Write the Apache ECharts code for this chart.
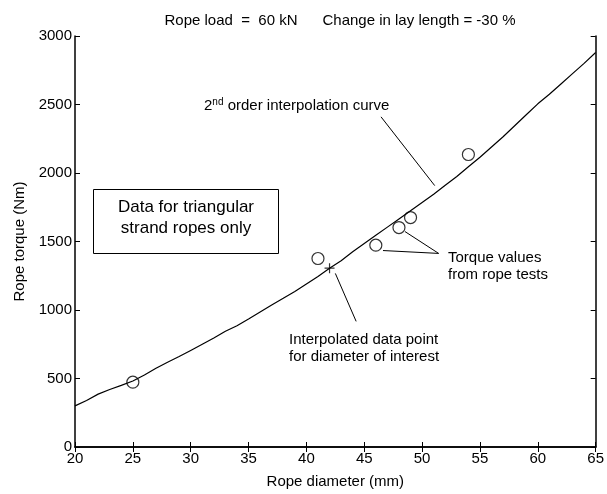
<!DOCTYPE html>
<html><head><meta charset="utf-8">
<script src="https://cdn.jsdelivr.net/npm/echarts@6/dist/echarts.min.js"></script>
<style>html,body{margin:0;padding:0;background:#fff}#c{width:607px;height:494px}</style>
</head><body><div id="c"></div>
<script>
const curveX = [20,21,22,23,24,25,26,27,28,29,30,31,32,33,34,35,36,37,38,39,40,41,42,43,44,45,46,47,48,49,50,51,52,53,54,55,56,57,58,59,60,61,62,63,64,65];
const curveY = [300,340,386,420,450,482,525,575,619,660,705,750,795,845,885,934,985,1036,1085,1135,1190,1245,1305,1360,1425,1485,1545,1605,1665,1725,1785,1845,1910,1975,2045,2115,2190,2265,2345,2425,2505,2575,2650,2725,2800,2880];
const testX = [25,41,46,48,49,54];
const testY = [473,1376,1473,1602,1675,2135];
const interpX = [42];
const interpY = [1305];
const xTicks = [20,25,30,35,40,45,50,55,60,65];
const yTicks = [0,500,1000,1500,2000,2500,3000];
const leaders = [
  [[46.45,2410],[51.09,1908]],
  [[51.43,1413],[46.62,1434]],
  [[51.43,1413],[48.51,1573]],
  [[42.5,1267],[44.3,917]]
];
const F = 'Liberation Sans, Arial, sans-serif';
const FS = 15;
const chart = echarts.init(document.getElementById('c'));
const axisCommon = {
  axisLine:{show:true,lineStyle:{color:'#000',width:1.5}},
  axisTick:{show:true,inside:true,length:5,lineStyle:{color:'#000',width:1}},
  splitLine:{show:false}
};
chart.setOption({
  animation:false,
  backgroundColor:'#fff',
  textStyle:{fontFamily:F},
  title:{text:'Rope load  =  60 kN      Change in lay length = -30 %',left:335,top:8,textAlign:'center',
    textStyle:{fontSize:FS,fontWeight:'normal',color:'#000',fontFamily:F}},
  grid:{left:75,right:8,top:36,bottom:45},
  xAxis:[
    Object.assign({type:'value',min:20,max:65,interval:5,position:'bottom',
      name:'Rope diameter (mm)',nameLocation:'middle',nameGap:27,
      nameTextStyle:{fontSize:FS,color:'#000',fontFamily:F},
      axisLabel:{fontSize:FS,color:'#000',margin:4,fontFamily:F}},axisCommon),
    Object.assign({type:'value',min:20,max:65,interval:5,position:'top',axisLabel:{show:false}},axisCommon)
  ],
  yAxis:[
    Object.assign({type:'value',min:0,max:3000,interval:500,position:'left',
      name:'Rope torque (Nm)',nameLocation:'middle',nameGap:42,
      nameTextStyle:{fontSize:FS,color:'#000',fontFamily:F},
      axisLabel:{fontSize:FS,color:'#000',margin:3,fontFamily:F,formatter:v=>String(v)}},axisCommon),
    Object.assign({type:'value',min:0,max:3000,interval:500,position:'right',axisLabel:{show:false}},axisCommon)
  ],
  series:[
    {type:'line',data:curveX.map((x,i)=>[x,curveY[i]]),showSymbol:false,symbol:'none',
      lineStyle:{color:'#000',width:1.2},
      markLine:{silent:true,symbol:'none',label:{show:false},lineStyle:{color:'#000',width:1,type:'solid'},
        data:leaders.map(l=>[{coord:l[0]},{coord:l[1]}])}},
    {type:'scatter',data:testX.map((x,i)=>[x,testY[i]]),symbol:'circle',symbolSize:12,
      itemStyle:{color:'#fff',borderColor:'#000',borderWidth:1.2}},
    {type:'scatter',data:interpX.map((x,i)=>[x,interpY[i]]),
      symbol:'path://M5,0L5,10M0,5L10,5',symbolSize:10,
      itemStyle:{color:'none',borderColor:'#000',borderWidth:1.2}}
  ],
  graphic:[
    {type:'rect',shape:{x:93.5,y:189.5,width:185,height:64},style:{fill:'#fff',stroke:'#000',lineWidth:1}},
    {type:'text',x:186,y:207,style:{text:'Data for triangular',font:'17px '+F,fill:'#000',align:'center',verticalAlign:'middle'}},
    {type:'text',x:186,y:228,style:{text:'strand ropes only',font:'17px '+F,fill:'#000',align:'center',verticalAlign:'middle'}},
    {type:'text',x:204,y:106,style:{
      text:'{b|2}{s|nd}{b| order interpolation curve}',
      rich:{b:{fontSize:FS,fontFamily:F,color:'#000'},s:{fontSize:10,fontFamily:F,color:'#000',verticalAlign:'top',padding:[0,0,8,0]}},
      verticalAlign:'middle'}},
    {type:'text',x:448,y:258,style:{text:'Torque values',font:FS+'px '+F,fill:'#000',verticalAlign:'middle'}},
    {type:'text',x:448,y:275,style:{text:'from rope tests',font:FS+'px '+F,fill:'#000',verticalAlign:'middle'}},
    {type:'text',x:289,y:340,style:{text:'Interpolated data point',font:FS+'px '+F,fill:'#000',verticalAlign:'middle'}},
    {type:'text',x:289,y:357,style:{text:'for diameter of interest',font:FS+'px '+F,fill:'#000',verticalAlign:'middle'}}
  ]
});
</script></body></html>
